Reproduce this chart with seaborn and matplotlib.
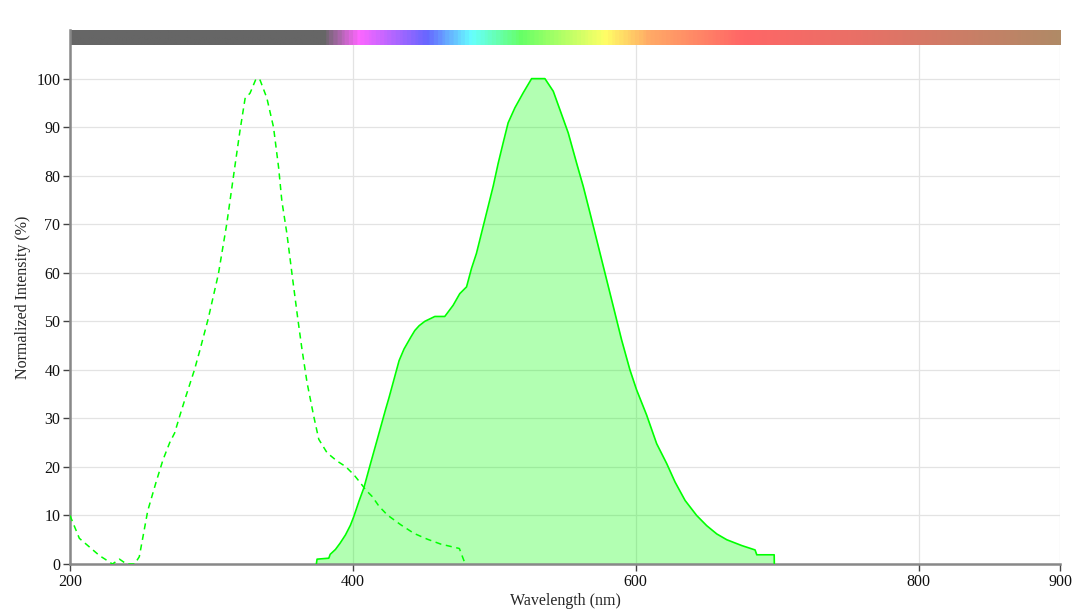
import numpy as np
import pandas as pd
import seaborn as sns
import matplotlib.pyplot as plt
from matplotlib.colors import LinearSegmentedColormap

# Excitacion (linea discontinua)
ex_nm = [200, 206.6, 215, 221, 224.8, 230, 235, 240, 245.7, 249, 255, 261, 265.8, 270.5,
         274, 277.6, 282, 288, 291.8, 297.7, 304.9, 310.8, 315.5, 320.2, 323.8, 327.3,
         331.6, 334.4, 339.2, 343.9, 347.5, 349.8, 353.4, 357, 361, 364, 367.6, 372.3,
         375.9, 381.8, 388.9, 394.8, 400.7, 405.4, 409, 413.7, 418.5, 424.4, 433.8,
         443.3, 452.8, 462.2, 475.3, 478.8]
ex_val = [10, 5.3, 3.2, 1.7, 1, 0, 1, 0, 0, 1.5, 11, 17, 21.5, 25,
          27, 30.5, 34.6, 40, 44, 50.5, 59.7, 70, 79.7, 89.3, 95.9, 97,
          100, 99.7, 96, 90, 81.7, 74.8, 68, 59.7, 50.7, 44.3, 37.4, 30.5,
          25.7, 22.9, 21.2, 20.1, 18.4, 16.7, 15.3, 13.9, 11.9, 10.1, 8.1,
          6.3, 5.1, 4.1, 3.2, 0.5]

# Emision (area rellena)
em_nm = [374.2, 374.7, 383, 384, 387.7, 391, 394.8, 398.3, 400.7, 404.3, 407.8, 412.6,
         417.3, 423.2, 425.6, 432.7, 436.2, 440.9, 443.8, 446.9, 450.9, 458, 465,
         470.9, 475.6, 480.4, 483.9, 487.4, 492.1, 495.7, 499.2, 502.8, 506.3, 509.8,
         514.6, 520.5, 526.4, 535.8, 541.7, 546.4, 552.3, 558.2, 562.9, 567.7, 572.4,
         578.3, 584.2, 590, 595.9, 600.6, 607.7, 614.8, 621.9, 627.8, 634.9, 643.1,
         650.2, 657.3, 664.4, 675, 684.4, 685.6, 697.9, 698]
em_val = [0, 1, 1.2, 2, 3, 4.3, 6, 8, 9.8, 12.9, 15.7, 20.8,
          25.7, 31.9, 34.3, 41.9, 44.3, 46.7, 48.1, 49.1, 50, 51, 51,
          53.3, 55.7, 57.1, 60.9, 64, 69.5, 73.7, 77.8, 82.6, 86.8, 90.9,
          94, 97.1, 100, 100, 97.4, 93.6, 88.8, 82.6, 77.8, 72.3, 66.8,
          59.9, 53, 46.2, 40, 35.9, 30.7, 24.8, 20.7, 16.9, 13.1, 10,
          7.9, 6.2, 5, 3.8, 2.9, 1.9, 1.9, 0]

x_ticks = [200, 400, 600, 800, 900]
y_ticks = list(range(0, 101, 10))

# colores de la barra del espectro
spec_stops = [(0.0, "#666666"), (0.255, "#666666"), (0.29, "#ff66ff"),
              (0.36, "#6666ff"), (0.405, "#66ffff"), (0.455, "#66ff66"),
              (0.54, "#ffff66"), (0.585, "#ffaa66"), (0.68, "#ff6666"),
              (0.80, "#e87066"), (1.0, "#b08a66")]

sns.set_style("whitegrid")
plt.rcParams['font.family'] = ['Liberation Serif', 'DejaVu Serif']

fig = plt.figure(figsize=(10.8, 6.14), dpi=100)
ax = fig.add_axes([0.0648, 0.0814, 0.9167, 0.8696])

ex = pd.DataFrame({'nm': ex_nm, 'val': ex_val})
em = pd.DataFrame({'nm': em_nm, 'val': em_val})

ax.fill_between(em['nm'], em['val'], color='#00ff00', alpha=0.3, lw=0, zorder=2)
sns.lineplot(data=em, x='nm', y='val', ax=ax, color='#00ff00', lw=1.2, sort=False, zorder=3)
sns.lineplot(data=ex, x='nm', y='val', ax=ax, color='#00ff00', lw=1.1, sort=False,
             zorder=3, dashes=False, linestyle=(0, (4, 3)))

# barra de espectro arriba
cmap = LinearSegmentedColormap.from_list('spec', spec_stops)
grad = np.linspace(0, 1, 700).reshape(1, -1)
ax.imshow(grad, cmap=cmap, extent=[200, 900, 107, 110], aspect='auto', zorder=1)

ax.set_xlim(200, 900)
ax.set_ylim(0, 110)
ax.set_xticks(x_ticks)
ax.set_yticks(y_ticks)
ax.grid(True, color='#e3e3e3', lw=0.9)
ax.set_axisbelow(True)
for s in ['top', 'right']:
    ax.spines[s].set_visible(False)
for s in ['left', 'bottom']:
    ax.spines[s].set_color('#888888')
    ax.spines[s].set_linewidth(1.8)
ax.tick_params(axis='both', length=5, width=1, color='#444444', labelsize=11.5,
               labelcolor='#111111', left=True, bottom=True, pad=2)
ax.set_xlabel('Wavelength (nm)', fontsize=11.5, labelpad=2)
ax.set_ylabel('Normalized Intensity (%)', fontsize=11.5, labelpad=4)

fig.savefig('out.png', dpi=100)
